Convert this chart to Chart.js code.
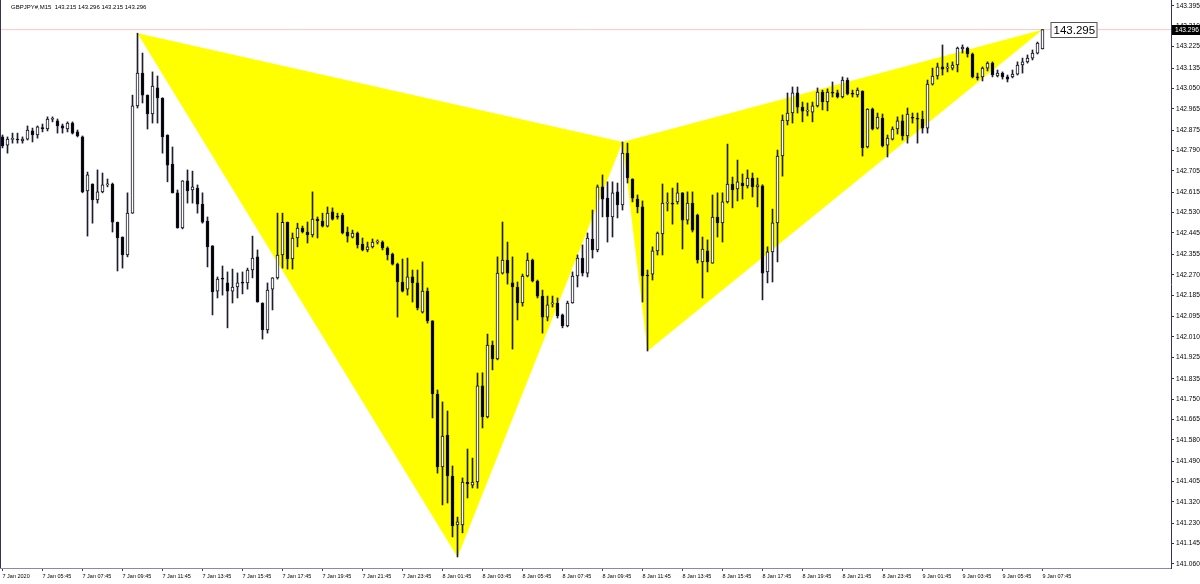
<!DOCTYPE html>
<html><head><meta charset="utf-8">
<script src="https://cdn.jsdelivr.net/npm/chart.js@4.4.1/dist/chart.umd.min.js"></script>
<style>html,body{margin:0;padding:0;background:#fff;overflow:hidden}#wrap{width:1200px;height:584px;position:relative}</style>
</head><body><div id="wrap"><canvas id="c" width="1200" height="584"></canvas></div>
<script>
const symbolTitle = 'GBPJPY#,M15  143.215 143.296 143.215 143.296';

const timeLabels = ['7 Jan 2020','7 Jan 05:45','7 Jan 07:45','7 Jan 09:45','7 Jan 11:45','7 Jan 13:45','7 Jan 15:45','7 Jan 17:45','7 Jan 19:45','7 Jan 21:45','7 Jan 23:45',
  '8 Jan 01:45','8 Jan 03:45','8 Jan 05:45','8 Jan 07:45','8 Jan 09:45','8 Jan 11:45','8 Jan 13:45','8 Jan 15:45','8 Jan 17:45','8 Jan 19:45','8 Jan 21:45','8 Jan 23:45',
  '9 Jan 01:45','9 Jan 03:45','9 Jan 05:45','9 Jan 07:45'];
const labelBars = [0,8,16,24,32,40,48,56,64,72,80,88,96,104,112,120,128,136,144,152,160,168,176,184,192,200,208];

const opens = [142.847,142.813,142.837,142.838,142.830,142.838,142.872,142.855,142.884,142.880,142.921,142.914,142.893,142.880,142.905,142.868,142.847,142.621,142.650,142.583,
142.617,142.646,142.650,142.490,142.428,142.353,142.528,142.977,143.114,143.022,142.943,143.052,143.010,142.855,142.733,142.613,142.466,142.663,142.625,142.633,
142.566,142.495,142.391,142.202,142.253,142.236,142.202,142.219,142.236,142.236,142.290,142.345,142.152,142.039,142.210,142.257,142.353,142.490,142.336,142.424,
142.466,142.449,142.437,142.503,142.495,142.474,142.533,142.512,142.520,142.449,142.428,142.445,142.399,142.374,142.387,142.407,142.407,142.382,142.357,142.315,
142.240,142.210,142.261,142.236,142.114,142.202,142.077,141.771,141.466,141.599,141.428,141.223,141.223,141.403,141.390,141.403,141.805,141.675,141.976,141.918,
142.277,142.332,142.236,142.219,142.152,142.265,142.332,142.244,142.181,142.093,142.148,142.152,142.102,142.056,142.152,142.265,142.340,142.277,142.420,142.374,
142.638,142.591,142.512,142.617,142.562,142.779,142.671,142.587,142.554,142.269,142.273,142.370,142.441,142.570,142.570,142.575,142.613,142.499,142.570,142.520,
142.324,142.370,142.319,142.512,142.487,142.575,142.650,142.629,142.654,142.642,142.675,142.638,142.642,142.282,142.366,142.487,142.767,142.914,142.947,143.031,
142.972,142.955,142.951,142.977,143.035,142.993,143.031,143.031,143.014,143.085,143.027,143.023,143.039,142.805,142.964,142.884,142.926,142.813,142.838,142.880,
142.914,142.851,142.926,142.922,142.922,142.884,143.068,143.102,143.140,143.135,143.135,143.148,143.215,143.219,143.194,143.098,143.098,143.135,143.156,143.102,
143.114,143.098,143.098,143.110,143.148,143.161,143.177,143.198,143.215];

const highs = [142.855,142.847,142.863,142.863,142.847,142.893,142.884,142.893,142.901,142.931,142.931,142.922,142.901,142.910,142.910,142.876,142.851,142.700,142.651,142.709,
142.696,142.671,142.654,142.491,142.429,142.613,143.022,143.281,143.198,143.023,143.119,143.102,143.011,142.856,142.805,142.625,142.664,142.709,142.704,142.646,
142.613,142.512,142.392,142.261,142.307,142.282,142.294,142.278,142.282,142.298,142.432,142.374,142.153,142.236,142.258,142.528,142.528,142.491,142.445,142.486,
142.474,142.491,142.617,142.512,142.528,142.554,142.550,142.528,142.528,142.470,142.457,142.449,142.424,142.407,142.420,142.416,142.412,142.387,142.361,142.319,
142.336,142.340,142.290,142.290,142.324,142.215,142.078,141.788,141.738,141.700,141.470,141.256,141.420,141.541,141.503,141.859,141.860,142.022,141.993,142.345,
142.491,142.407,142.345,142.240,142.273,142.361,142.336,142.248,142.206,142.181,142.181,142.173,142.106,142.160,142.282,142.353,142.395,142.445,142.541,142.646,
142.688,142.659,142.659,142.654,142.826,142.821,142.672,142.604,142.579,142.290,142.387,142.449,142.650,142.613,142.633,142.654,142.614,142.617,142.617,142.524,
142.428,142.416,142.604,142.613,142.613,142.817,142.679,142.750,142.692,142.709,142.696,142.675,142.647,142.387,142.545,142.792,142.939,143.031,143.056,143.056,
142.993,142.989,142.993,143.052,143.043,143.048,143.077,143.043,143.098,143.094,143.043,143.052,143.040,142.965,142.968,142.947,142.943,142.855,142.889,142.931,
142.939,142.968,142.947,142.947,142.955,143.085,143.135,143.156,143.232,143.156,143.161,143.223,143.232,143.223,143.198,143.114,143.140,143.161,143.161,143.127,
143.119,143.106,143.127,143.161,143.177,143.190,143.211,143.244,143.296];

const lows = [142.801,142.779,142.821,142.821,142.821,142.834,142.826,142.842,142.868,142.872,142.910,142.863,142.863,142.868,142.859,142.847,142.613,142.432,142.486,142.570,
142.613,142.638,142.449,142.286,142.298,142.345,142.527,142.968,142.989,142.880,142.905,142.905,142.779,142.659,142.612,142.465,142.462,142.570,142.570,142.528,
142.486,142.303,142.102,142.173,142.185,142.048,142.152,142.173,142.190,142.210,142.257,142.155,142.001,142.026,142.123,142.252,142.298,142.294,142.294,142.387,
142.445,142.403,142.428,142.424,142.470,142.470,142.499,142.503,142.441,142.407,142.424,142.382,142.370,142.366,142.382,142.399,142.374,142.332,142.311,142.093,
142.198,142.185,142.156,142.123,142.110,142.068,141.671,141.440,141.307,141.315,141.173,141.089,141.190,141.336,141.378,141.377,141.629,141.671,141.872,141.914,
142.273,142.231,141.959,142.081,142.139,142.261,142.240,142.173,142.026,142.077,142.135,142.089,142.048,142.052,142.151,142.219,142.265,142.261,142.340,142.366,
142.512,142.407,142.428,142.508,142.541,142.654,142.575,142.529,142.156,141.951,142.248,142.353,142.353,142.537,142.482,142.566,142.378,142.482,142.449,142.319,
142.173,142.282,142.318,142.428,142.407,142.570,142.550,142.579,142.587,142.633,142.596,142.554,142.165,142.236,142.240,142.324,142.683,142.897,142.905,142.947,
142.910,142.935,142.910,142.972,142.960,142.956,143.014,143.010,143.010,143.023,143.014,143.014,142.767,142.801,142.876,142.880,142.805,142.763,142.834,142.859,
142.834,142.821,142.905,142.821,142.863,142.863,143.064,143.089,143.106,143.119,143.127,143.119,143.198,143.181,143.094,143.085,143.081,143.123,143.098,143.098,
143.089,143.077,143.094,143.106,143.114,143.156,143.169,143.194,143.215];

const closes = [142.809,142.838,142.838,142.834,142.838,142.876,142.855,142.889,142.882,142.922,142.922,142.893,142.884,142.905,142.863,142.851,142.617,142.688,142.583,142.617,
142.646,142.650,142.490,142.424,142.353,142.528,142.977,143.114,143.022,142.943,143.060,143.010,142.847,142.729,142.613,142.466,142.663,142.621,142.638,142.566,
142.490,142.387,142.198,142.252,142.252,142.202,142.219,142.236,142.235,142.290,142.340,142.156,142.039,142.206,142.257,142.353,142.490,142.336,142.424,142.466,
142.449,142.437,142.503,142.495,142.474,142.528,142.503,142.511,142.445,142.432,142.445,142.395,142.374,142.387,142.407,142.408,142.382,142.353,142.315,142.240,
142.202,142.261,142.236,142.131,142.202,142.077,141.771,141.466,141.595,141.428,141.219,141.236,141.403,141.395,141.403,141.805,141.675,141.976,141.918,142.277,
142.332,142.277,142.219,142.152,142.265,142.332,142.244,142.181,142.093,142.144,142.149,142.098,142.056,142.152,142.265,142.340,142.277,142.424,142.374,142.638,
142.587,142.512,142.613,142.562,142.779,142.675,142.591,142.554,142.265,142.265,142.370,142.445,142.570,142.571,142.566,142.613,142.499,142.570,142.457,142.332,
142.378,142.324,142.512,142.487,142.575,142.650,142.625,142.659,142.642,142.675,142.638,142.646,142.277,142.366,142.487,142.767,142.918,142.947,143.031,142.972,
142.955,142.956,142.977,143.035,142.993,143.035,143.030,143.014,143.085,143.027,143.026,143.043,142.801,142.964,142.880,142.930,142.809,142.842,142.880,142.914,
142.851,142.943,142.925,142.921,142.884,143.068,143.102,143.140,143.131,143.136,143.148,143.219,143.223,143.194,143.098,143.094,143.135,143.156,143.106,143.114,
143.098,143.089,143.110,143.148,143.161,143.177,143.198,143.240,143.296];

const yTickValues = [143.395,143.310,143.225,143.135,143.050,142.965,142.875,142.790,142.705,142.615,142.530,142.445,142.355,142.270,142.185,
  142.095,142.010,141.925,141.835,141.750,141.665,141.580,141.490,141.405,141.320,141.230,141.145,141.060];

// Harmonic pattern points X, A, B, C, D
const patternBars = [27, 91, 124, 129, 208];
const patternPrices = [143.281, 141.089, 142.826, 141.951, 143.296];
const patternLabel = '143.295';
const bidPrice = 143.296;

const X_MIN = -0.5, X_MAX = 233.7, Y_MIN = 141.043, Y_MAX = 143.420;
const FONT = '"Liberation Sans", Arial, sans-serif';

const bodies = opens.map((o, i) => ({x: i, y: [o, closes[i]]}));
const wicks = highs.map((h, i) => ({x: i, y: [lows[i], h]}));
const bodyFill = opens.map((o, i) => closes[i] >= o ? '#ffffff' : '#000000');
const lowerEdge = patternBars.map((b, k) => ({x: b, y: patternPrices[k]}));
const upperEdge = [0, 2, 4].map(k => ({x: patternBars[k], y: patternPrices[k]}));

const overlay = {
  id: 'overlay',
  afterDraw(chart) {
    const {ctx, chartArea: a, scales: {x, y}} = chart;
    ctx.save();
    ctx.strokeStyle = '#34345a'; ctx.lineWidth = 1;
    ctx.beginPath(); ctx.moveTo(a.left + 0.5, a.top); ctx.lineTo(a.left + 0.5, a.bottom); ctx.stroke();
    ctx.fillStyle = '#000'; ctx.textAlign = 'left'; ctx.textBaseline = 'middle';
    ctx.font = '6px ' + FONT;
    ctx.fillText(symbolTitle, 11, 7);
    const by = y.getPixelForValue(bidPrice);
    ctx.fillStyle = '#000';
    ctx.fillRect(a.right + 1, Math.round(by) - 5, 28, 10);
    ctx.fillStyle = '#fff'; ctx.font = '6.6px ' + FONT;
    ctx.fillText(bidPrice.toFixed(3), a.right + 4, Math.round(by));
    const px = x.getPixelForValue(patternBars[4]) + 8;
    const py = y.getPixelForValue(patternPrices[4]);
    ctx.fillStyle = '#fff';
    ctx.fillRect(px, Math.round(py) - 7.5, 47, 15);
    ctx.strokeStyle = '#555'; ctx.lineWidth = 1;
    ctx.strokeRect(px + 0.5, Math.round(py) - 7.5, 46, 15);
    ctx.fillStyle = '#000'; ctx.font = '11.5px ' + FONT;
    ctx.fillText(patternLabel, px + 3, Math.round(py) + 0.5);
    ctx.restore();
  }
};

new Chart(document.getElementById('c'), {
  type: 'bar',
  data: {
    datasets: [
      {type: 'bar', data: bodies, backgroundColor: bodyFill, borderColor: '#111122', borderWidth: 1,
       borderSkipped: false, barThickness: 3, minBarLength: 1, grouped: false, order: 0},
      {type: 'bar', data: wicks, backgroundColor: '#1e1e2e', borderWidth: 0, barThickness: 1,
       grouped: false, order: 1},
      {type: 'line', data: lowerEdge, borderColor: 'rgba(0,0,0,0)', borderWidth: 1, pointRadius: 0, tension: 0,
       backgroundColor: '#ffff00', fill: {target: 3, above: '#ffff00', below: '#ffff00'}, order: 3},
      {type: 'line', data: upperEdge, borderColor: 'rgba(0,0,0,0)', borderWidth: 1, pointRadius: 0, tension: 0,
       fill: false, order: 4},
      {type: 'line', data: [{x: X_MIN, y: bidPrice}, {x: X_MAX, y: bidPrice}], borderColor: '#f6c8c8',
       borderWidth: 1, pointRadius: 0, fill: false, order: 2}
    ]
  },
  options: {
    responsive: false, maintainAspectRatio: false, animation: false, devicePixelRatio: 1, events: [],
    layout: {padding: 0, autoPadding: false},
    plugins: {legend: {display: false}, tooltip: {enabled: false}, title: {display: false}},
    scales: {
      x: {
        type: 'linear', position: 'bottom', min: X_MIN, max: X_MAX, offset: false, bounds: 'data',
        grid: {display: true, drawOnChartArea: false, drawTicks: true, tickLength: 3, color: '#40406a', offset: false},
        border: {display: true, color: '#8a8aa8', width: 1},
        ticks: {autoSkip: false, maxRotation: 0, minRotation: 0, align: 'start', padding: 2, color: '#000',
                font: {family: FONT, size: 5.5}, callback: (v, i) => timeLabels[i]},
        afterBuildTicks: s => { s.ticks = labelBars.map(v => ({value: v})); },
        afterFit: s => { s.height = 16; s.paddingLeft = 0; s.paddingRight = 0; s.paddingTop = 0; s.paddingBottom = 0; }
      },
      y: {
        type: 'linear', position: 'right', min: Y_MIN, max: Y_MAX, bounds: 'data',
        grid: {display: true, drawOnChartArea: false, drawTicks: true, tickLength: 3, color: '#34345a'},
        border: {display: true, color: '#34345a', width: 1},
        ticks: {autoSkip: false, padding: 2, color: '#000', font: {family: FONT, size: 6.6},
                callback: v => Number(v).toFixed(3)},
        afterBuildTicks: s => { s.ticks = yTickValues.map(v => ({value: v})); },
        afterFit: s => { s.width = 29; s.paddingLeft = 0; s.paddingRight = 0; s.paddingTop = 0; s.paddingBottom = 0; }
      }
    }
  },
  plugins: [overlay]
});
</script>
</body></html>
